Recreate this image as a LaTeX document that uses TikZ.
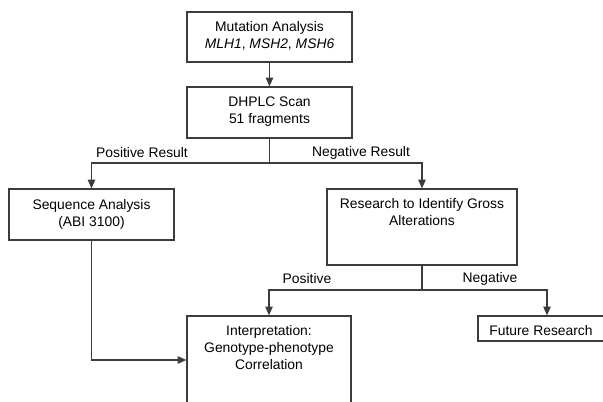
\documentclass[tikz,border=0pt]{standalone}
\usepackage{fontspec}
\setmainfont{Liberation Sans}
\usetikzlibrary{arrows.meta,positioning}
\definecolor{linegray}{RGB}{60,60,60}

\begin{document}
\begin{tikzpicture}[x=0.75pt,y=-0.75pt]
		\tikzstyle{every node}=[font=\fontsize{10.4}{12.8}\selectfont, text=black]
		\tikzstyle{box}=[draw=linegray, line width=0.9pt, rectangle, inner sep=0pt]
		\tikzstyle{boxtext}=[inner sep=0pt, align=center]
		\tikzstyle{link}=[draw=linegray, line width=0.9pt]
		\tikzstyle{flow}=[link, -{Triangle[length=6.5pt,width=5.5pt]}]
		\useasboundingbox (0,0) rectangle (603,401);
		\clip (0,0) rectangle (603,401);
		% boxes
		\node [box, minimum width=123.75pt, minimum height=37.5pt] (mut) at (269.5,37) {};
		\node [box, minimum width=123.75pt, minimum height=38.25pt] (dhplc) at (269.5,112.5) {};
		\node [box, minimum width=123.75pt, minimum height=38.25pt] (seq) at (91.5,214.5) {};
		\node [box, minimum width=142.5pt, minimum height=57pt] (research) at (422,227) {};
		\node [box, minimum width=123pt, minimum height=85.5pt] (interp) at (269,373) {};
		\node [box, minimum width=103.5pt, minimum height=18.75pt] (future) at (547,328.5) {};
		% box texts
		\node [boxtext, below=7.5pt of mut.north] (muttext) {Mutation Analysis\\\textit{MLH1}, \textit{MSH2}, \textit{MSH6}};
		\node [boxtext, below=7.5pt of dhplc.north] (dhplctext) {DHPLC Scan\\51 fragments};
		\node [boxtext, below=8pt of seq.north] (seqtext) {Sequence Analysis\\(ABI 3100)};
		\node [boxtext, below=7.5pt of research.north] (researchtext) {Research to Identify Gross\\Alterations};
		\node [boxtext, below=7.5pt of interp.north] (interptext) {Interpretation:\\Genotype-phenotype\\Correlation};
		\node [boxtext, below=7.5pt of future.north, xshift=-4.5pt] (futuretext) {Future Research};
		% connectors
		\coordinate (split1) at (269.5,163);
		\coordinate (split2) at (422,290);
		\coordinate (seqturn) at (91.5,360);
		\draw [flow] (mut) -- (dhplc);
		\draw [link] (dhplc.south) -- (split1);
		\draw [flow] (split1) -| (seq.north);
		\draw [flow] (split1) -| (research.north);
		\draw [link] (research.south) -- (split2);
		\draw [flow] (split2) -| (interp.north);
		\draw [flow] (split2) -| (future.north);
		\draw [flow] (seq.south) -- (seqturn) -- (seqturn -| interp.west);
		% branch labels
		\node (posres) at (142,153) {Positive Result};
		\node (negres) at (361,153) {Negative Result};
		\node (pos) at (307,279) {Positive};
		\node (neg) at (490,279) {Negative};
\end{tikzpicture}
\end{document}
